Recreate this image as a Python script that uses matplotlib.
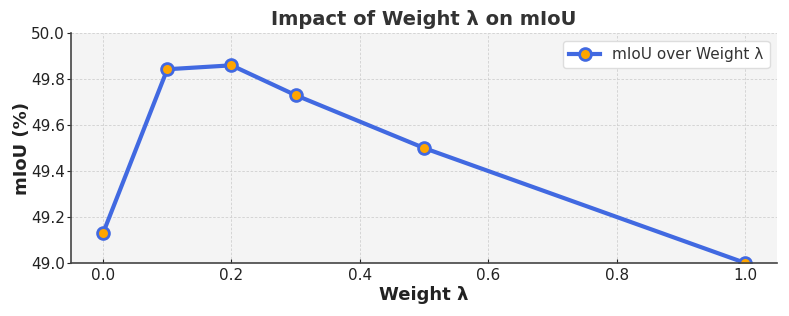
import matplotlib.pyplot as plt
import numpy as np

weights = [0.0, 0.1, 0.2, 0.3, 0.5, 1.0]
miou = [49.13, 49.843, 49.86, 49.73, 49.50, 49.00]

fig, ax = plt.subplots(figsize=(7.89, 3.16), dpi=100)
ax.set_facecolor('#f4f4f4')

ax.plot(weights, miou, '-o', color='royalblue', linewidth=3,
        markersize=8.5, markerfacecolor='orange', markeredgecolor='royalblue',
        markeredgewidth=2, label='mIoU over Weight λ')

ax.set_ylim(49.0, 50.0)
ax.set_title('Impact of Weight λ on mIoU', fontsize=14, fontweight='bold', color='#333333')
ax.set_xlabel('Weight λ', fontsize=13, fontweight='bold', color='#222222', labelpad=2)
ax.set_ylabel('mIoU (%)', fontsize=13, fontweight='bold', color='#222222', labelpad=0)
ax.grid(True, linestyle=(0, (3, 2)), color='#d0d0d0', linewidth=0.6)
ax.tick_params(labelsize=11, colors='#222222', length=3)
ax.tick_params(axis='x', direction='in')
ax.tick_params(axis='y', direction='out', pad=1.5)
for s in ['top', 'right']:
    ax.spines[s].set_visible(False)
for s in ['left', 'bottom']:
    ax.spines[s].set_color('#444444')
    ax.spines[s].set_linewidth(1.2)

leg = ax.legend(fontsize=11, loc='upper right', framealpha=1, facecolor='white', edgecolor='#dddddd')
for t in leg.get_texts():
    t.set_color('#333333')

plt.subplots_adjust(left=0.09, right=0.985, top=0.895, bottom=0.168)
plt.savefig('out.png')
